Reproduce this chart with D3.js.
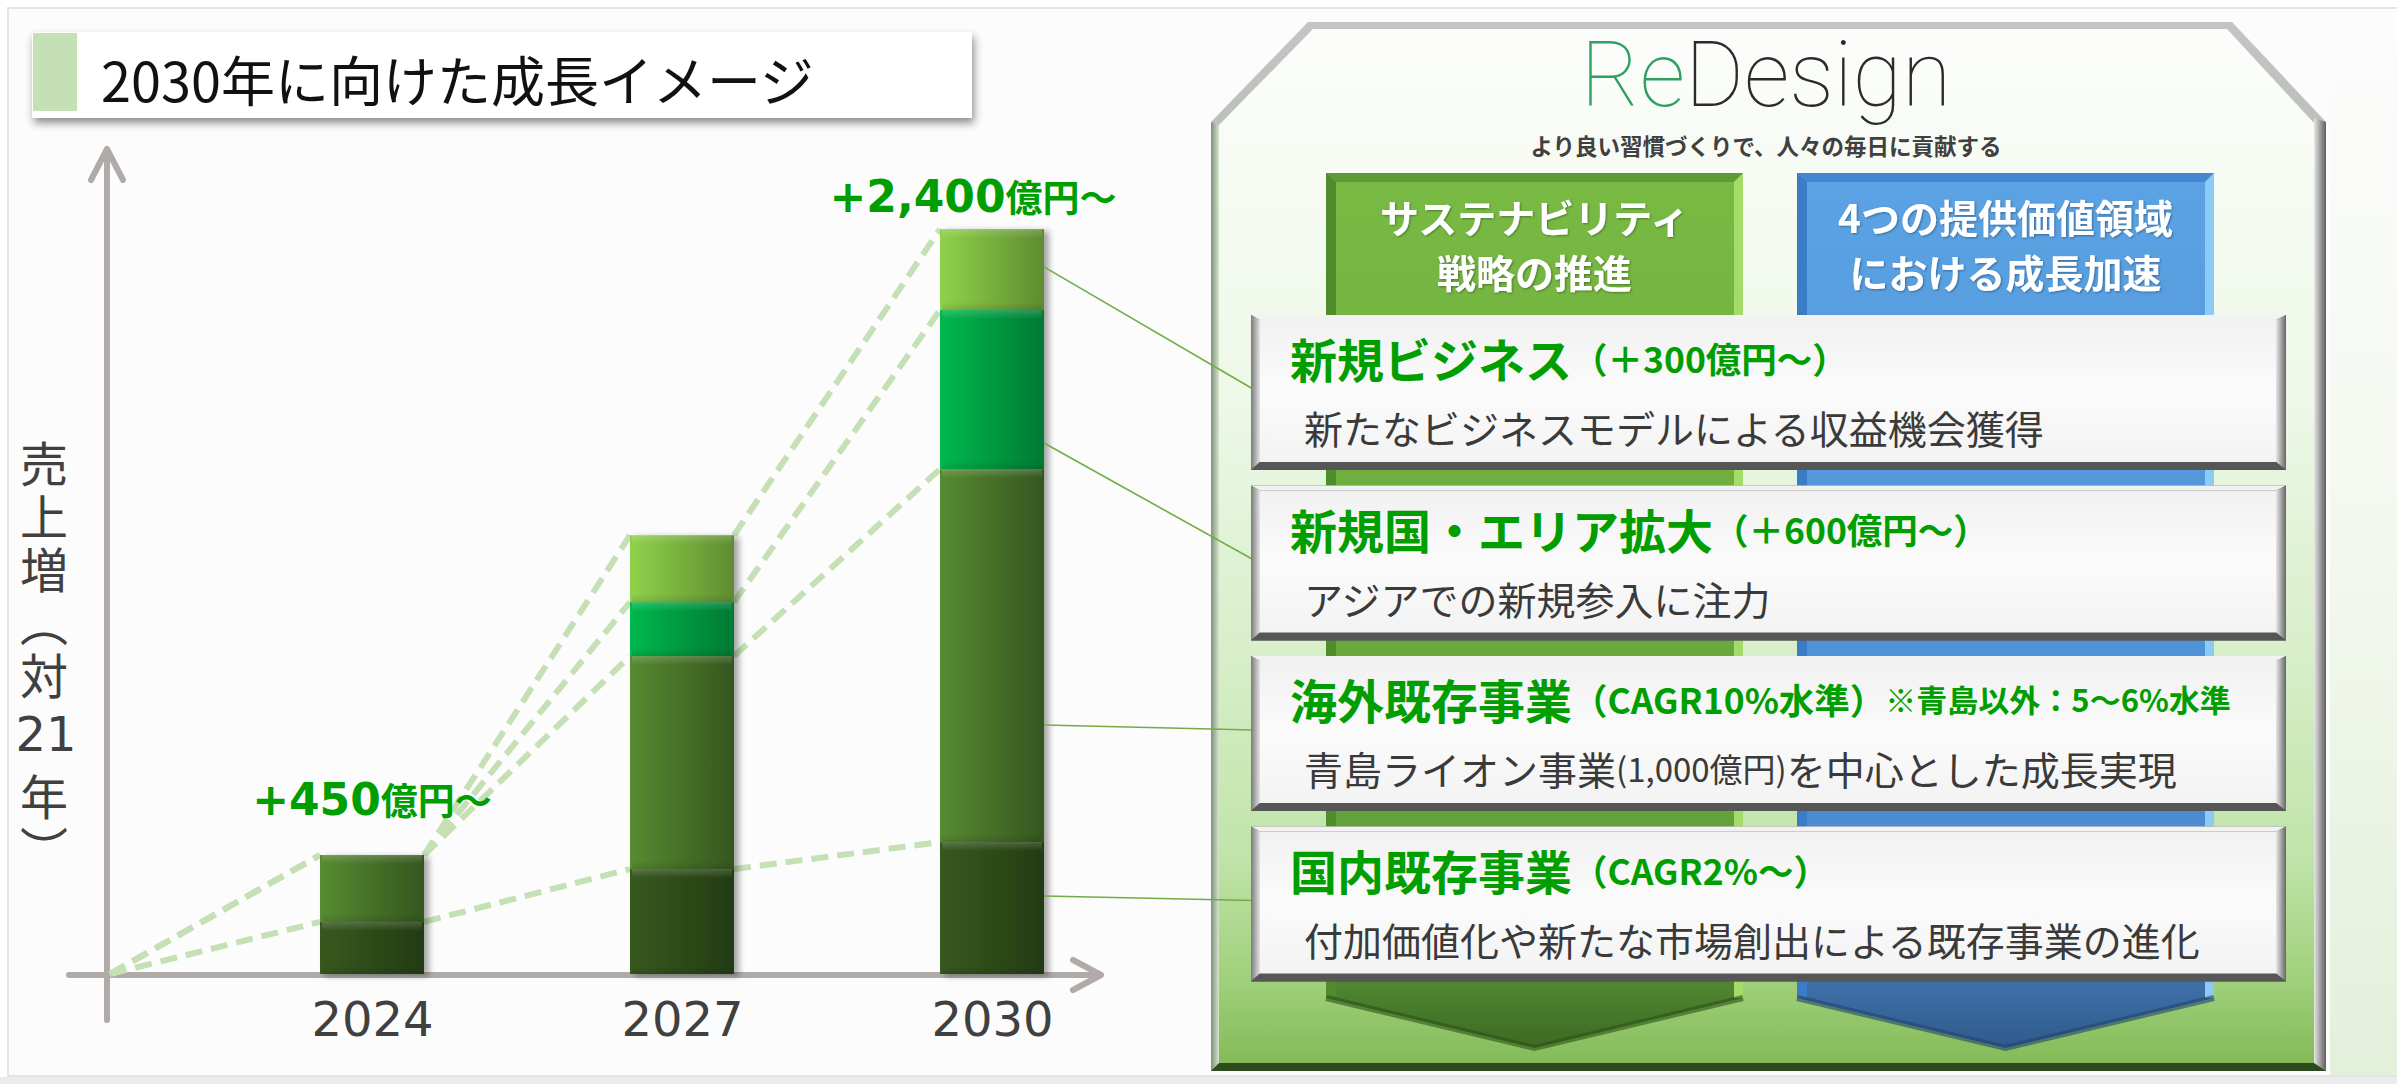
<!DOCTYPE html>
<meta charset="utf-8">
<style>
    html,
    body {
        margin: 0;
        padding: 0;
        background: #fff;
    }

    svg {
        display: block;
    }

    .vert {
        writing-mode: vertical-rl;
    }
</style>
<svg id="canvas"></svg>
<script src="https://d3js.org/d3.v7.min.js"></script>
<script>
    // chart values (illustrative bar heights, 億円)
    const years = ["2024", "2027", "2030"];
    const domestic = [197, 397, 499];
    const overseas = [253, 806, 1411];
    const newArea = [0, 204, 602];
    const newBiz = [0, 253, 306];
    const totalNums = ["+450", "", "+2,400"];
    const totalUnit = "億円～";
    // where the callout lines leave the 2030 bar (top box first)
    const linkValues = [2675, 2009, 942, 295];

    const chartTitle = "2030年に向けた成長イメージ";
    const yLabelTop = "売上増（対";
    const yLabelMid = "21";
    const yLabelEnd = "年）";

    const boxTitles = ["新規ビジネス", "新規国・エリア拡大", "海外既存事業", "国内既存事業"];
    const boxNotes = ["（＋300億円～）", "（＋600億円～）", "（CAGR10%水準）", "（CAGR2%～）"];
    const boxExtras = ["", "", "※青島以外：5～6%水準", ""];
    const boxSubs = [
        ["新たなビジネスモデルによる収益機会獲得"],
        ["アジアでの新規参入に注力"],
        ["青島ライオン事業", "(1,000億円)", "を中心とした成長実現"],
        ["付加価値化や新たな市場創出による既存事業の進化"]
    ];
    const pillarGreen = ["サステナビリティ", "戦略の推進"];
    const pillarBlue = ["4つの提供価値領域", "における成長加速"];
    const slogan = "より良い習慣づくりで、人々の毎日に貢献する";

    const W = 2397,
        H = 1084;

    var svg = d3.select("#canvas").attr("width", W).attr("height", H)
        .attr("font-family", "'Noto Sans CJK JP', 'Noto Sans', sans-serif");
    var defs = svg.append("defs");

    function grad(id, dir, stops) {
        var g = defs.append("linearGradient").attr("id", id)
            .attr("x1", 0).attr("y1", 0)
            .attr("x2", dir === "h" ? 1 : 0).attr("y2", dir === "h" ? 0 : 1);
        stops.forEach(function(s) {
            g.append("stop").attr("offset", s[0]).attr("stop-color", s[1])
                .attr("stop-opacity", s[2] == null ? 1 : s[2]);
        });
    }

    function shadow(id, dx, dy, sd, op) {
        defs.append("filter").attr("id", id)
            .attr("x", "-20%").attr("y", "-20%").attr("width", "140%").attr("height", "140%")
            .append("feDropShadow")
            .attr("dx", dx).attr("dy", dy).attr("stdDeviation", sd)
            .attr("flood-color", "#000").attr("flood-opacity", op);
    }

    //segment colours, light at left to dark at right
    var segColors = {
        domestic: ["#37591f", "#233c13"],
        overseas: ["#578b31", "#35561f"],
        newArea: ["#00b84e", "#007a33"],
        newBiz: ["#8fd24a", "#5f8c30"]
    };
    Object.keys(segColors).forEach(function(k) {
        grad("g-" + k, "h", [[0, segColors[k][0]], [1, segColors[k][1]]]);
    });
    grad("hi", "v", [[0, "#fff", 0.18], [1, "#fff", 0]]);
    grad("lo", "v", [[0, "#000", 0], [1, "#000", 0.12]]);
    grad("panel", "v", [[0, "#fcfdfb"], [0.35, "#eef8e8"], [0.6, "#d8efca"], [0.8, "#c0e4a9"], [0.92, "#a0d07b"], [1, "#84bb58"]]);
    grad("panelEdge", "v", [[0, "#c4c4c4"], [0.5, "#9fae9a"], [0.85, "#4f7f3a"], [1, "#2c4a1d"]]);
    grad("panelRight", "h", [[0, "#e6e6e6"], [1, "#5e5e5e"]]);
    grad("panelLeft", "h", [[0, "#7f8f7a"], [1, "#d5e6cc"]]);
    grad("pGreen", "v", [[0, "#79ba44"], [0.8, "#62a03a"], [0.93, "#4f8430"], [1, "#3c6a22"]]);
    grad("pBlue", "v", [[0, "#5ba3e4"], [0.8, "#4a8bcf"], [0.93, "#3d6fa7"], [1, "#2f5a8c"]]);
    grad("bxLeft", "h", [[0, "#7a7a7a"], [1, "#e4e4e4"]]);
    grad("bxRight", "h", [[0, "#e8e8e8"], [1, "#666"]]);
    grad("bxFace", "v", [[0, "#f1f1f1"], [0.5, "#fbfbfb"], [1, "#f3f3f3"]]);
    grad("bgRight", "v", [[0, "#fcfcfc"], [0.5, "#f3f8ef"], [1, "#e3f0da"]]);
    shadow("barShadow", 5, 2, 3, 0.35);
    shadow("titleShadow", 2, 5, 4, 0.45);
    shadow("txtShadow", 1, 1, 1, 0.35);

    // page background
    svg.append("rect").attr("width", W).attr("height", H).attr("fill", "#fff");
    svg.append("rect").attr("x", 8).attr("y", 8).attr("width", W - 8).attr("height", 1068)
        .attr("fill", "#fcfcfc").attr("stroke", "#e4e4e4").attr("stroke-width", 2);
    svg.append("rect").attr("x", 2330).attr("y", 9).attr("width", 67).attr("height", 1066)
        .attr("fill", "url(#bgRight)");
    svg.append("rect").attr("x", 0).attr("y", 1077).attr("width", W).attr("height", 7).attr("fill", "#ececec");

    // title box
    svg.append("rect").attr("x", 32).attr("y", 32).attr("width", 940).attr("height", 86)
        .attr("fill", "#fff").attr("filter", "url(#titleShadow)");
    svg.append("rect").attr("x", 33).attr("y", 33).attr("width", 44).attr("height", 78).attr("fill", "#c5e0b4");
    svg.append("text").attr("x", 101).attr("y", 78).attr("dominant-baseline", "central")
        .attr("font-size", 54).attr("fill", "#111").text(chartTitle);

    /** chart **/
    var rows = years.map(function(yr, i) {
        return {
            year: yr,
            domestic: domestic[i],
            overseas: overseas[i],
            newArea: newArea[i],
            newBiz: newBiz[i]
        };
    });
    var keys = ["domestic", "overseas", "newArea", "newBiz"];
    var stacked = d3.stack().keys(keys)(rows);

    var x = d3.scalePoint().domain(years).range([372, 992]);
    var y = d3.scaleLinear().domain([0, 3000]).range([974, 181]);
    var barW = 104;
    var originX = 110;

    // axes (arrows)
    var axisCol = "#b0aaa8";
    var axes = svg.append("g").attr("stroke", axisCol).attr("stroke-width", 6)
        .attr("fill", "none").attr("stroke-linecap", "round").attr("stroke-linejoin", "round");
    axes.append("line").attr("x1", 107).attr("x2", 107).attr("y1", 1020).attr("y2", 150);
    axes.append("polyline").attr("points", "91,180 107,149 123,180");
    axes.append("line").attr("x1", 69).attr("x2", 1100).attr("y1", y(0) + 1).attr("y2", y(0) + 1);
    axes.append("polyline").attr("points", "1073,960 1101,975 1073,990");

    // year labels
    svg.append("g").attr("transform", "translate(0," + y(0) + ")")
        .call(d3.axisBottom(x).tickSize(0).tickPadding(28))
        .call(function(g) {
            g.select(".domain").remove();
        })
        .selectAll("text")
        .attr("font-family", "DejaVu Sans")
        .attr("font-size", 48)
        .attr("fill", "#404040");

    // y label, written top to bottom
    var yl = svg.append("g").attr("fill", "#404040").attr("font-size", 48);
    yl.append("text").attr("class", "vert").attr("x", 44).attr("y", 440)
        .attr("letter-spacing", 5).text(yLabelTop);
    yl.append("text").attr("x", 46).attr("y", 734).attr("text-anchor", "middle")
        .attr("dominant-baseline", "central").attr("font-family", "DejaVu Sans").attr("font-size", 48)
        .text(yLabelMid);
    yl.append("text").attr("class", "vert").attr("x", 44).attr("y", 773)
        .attr("letter-spacing", 5).text(yLabelEnd);

    // dashed growth lines
    var segs = [];
    stacked.forEach(function(layer) {
        var px = originX,
            py = y(0);
        layer.forEach(function(d, j) {
            var lx = x(years[j]) - barW / 2;
            var ly = y(d[1]);
            segs.push([px, py, lx, ly]);
            px = lx + barW;
            py = ly;
        });
    });
    svg.append("g").selectAll("line").data(segs).enter().append("line")
        .attr("x1", function(d) {
            return d[0];
        }).attr("y1", function(d) {
            return d[1];
        })
        .attr("x2", function(d) {
            return d[2];
        }).attr("y2", function(d) {
            return d[3];
        })
        .attr("stroke", "#c5e0b4").attr("stroke-width", 6).attr("stroke-dasharray", "17 9");

    // stacked bars
    var bars = svg.append("g").selectAll("g").data(years).enter().append("g")
        .attr("filter", "url(#barShadow)");
    bars.each(function(yr, j) {
        var g = d3.select(this);
        stacked.forEach(function(layer) {
            var d = layer[j];
            var h = y(d[0]) - y(d[1]);
            if (h <= 0) return;
            var x0 = x(yr) - barW / 2;
            g.append("rect").attr("x", x0).attr("y", y(d[1])).attr("width", barW).attr("height", h)
                .attr("fill", "url(#g-" + layer.key + ")");
            g.append("rect").attr("x", x0 + 2).attr("y", y(d[1])).attr("width", barW - 4).attr("height", Math.min(9, h / 3))
                .attr("fill", "url(#hi)");
            g.append("rect").attr("x", x0 + 2).attr("y", y(d[0]) - Math.min(8, h / 3)).attr("width", barW - 4).attr("height", Math.min(8, h / 3))
                .attr("fill", "url(#lo)");
        });
    });

    // total labels
    var labelDx = [0, 0, -19],
        labelDy = [-40, 0, -17];
    var topLayer = stacked[stacked.length - 1];
    years.forEach(function(yr, j) {
        if (!totalNums[j]) return;
        var t = svg.append("text").attr("x", x(yr) + labelDx[j]).attr("y", y(topLayer[j][1]) + labelDy[j])
            .attr("text-anchor", "middle").attr("fill", "#009e00");
        t.append("tspan").attr("font-family", "DejaVu Sans").attr("font-weight", 700).attr("font-size", 44).text(totalNums[j]);
        t.append("tspan").attr("font-size", 37).attr("font-weight", 700).text(totalUnit);
    });

    /** right panel **/
    var panel = svg.append("g");
    panel.append("polygon").attr("points", "1308,22 2232,22 2326,122 2326,1071 1211,1071 1211,122")
        .attr("fill", "url(#panelEdge)");
    panel.append("polygon").attr("points", "2314,118 2326,122 2326,1071 2314,1063")
        .attr("fill", "url(#panelRight)");
    panel.append("polygon").attr("points", "1211,122 1219,125 1219,1063 1211,1071")
        .attr("fill", "url(#panelLeft)");
    panel.append("polygon").attr("points", "1313,29 2227,29 2314,123 2314,1063 1219,1063 1219,125")
        .attr("fill", "url(#panel)");

    // ReDesign mark
    var logo = panel.append("text").attr("x", 1766).attr("y", 106).attr("text-anchor", "middle")
        .attr("font-family", "Roboto, Lato, sans-serif").attr("font-weight", 100).attr("font-size", 90);
    logo.append("tspan").attr("fill", "#2f9f63").text("Re");
    logo.append("tspan").attr("fill", "#2b2b2b").text("Design");
    panel.append("text").attr("x", 1766).attr("y", 145).attr("text-anchor", "middle")
        .attr("dominant-baseline", "central").attr("font-size", 22.5).attr("font-weight", 700)
        .attr("fill", "#404040").text(slogan);

    // pillars with arrow ends
    function pillar(x0, x1, fill, dark, light, topCol, edge, lines) {
        var cx = (x0 + x1) / 2;
        var g = panel.append("g");
        g.append("path").attr("d", "M" + x0 + ",173H" + x1 + "V998L" + cx + ",1048L" + x0 + ",998Z")
            .attr("fill", "url(#" + fill + ")");
        g.append("rect").attr("x", x0).attr("y", 173).attr("width", 10).attr("height", 825).attr("fill", dark);
        g.append("rect").attr("x", x1 - 9).attr("y", 173).attr("width", 9).attr("height", 825).attr("fill", light);
        g.append("polygon").attr("points", [x0, 173, x1, 173, x1 - 9, 182, x0 + 10, 182].join(","))
            .attr("fill", topCol);
        g.append("path").attr("d", "M" + x0 + ",998L" + cx + ",1048L" + x1 + ",998")
            .attr("fill", "none").attr("stroke", edge).attr("stroke-width", 6).attr("stroke-opacity", 0.6);
        g.selectAll("text").data(lines).enter().append("text")
            .attr("x", cx).attr("y", function(d, i) {
                return 216 + i * 55;
            })
            .attr("text-anchor", "middle").attr("dominant-baseline", "central")
            .attr("font-size", 39).attr("font-weight", 700).attr("fill", "#fff")
            .attr("filter", "url(#txtShadow)")
            .text(function(d) {
                return d;
            });
    }
    pillar(1326, 1743, "pGreen", "#4e8c2c", "#a4dc6a", "#5e9b34", "#2c5216", pillarGreen);
    pillar(1797, 2214, "pBlue", "#3b7cc6", "#8ccbf6", "#4488d2", "#22456e", pillarBlue);

    // callout lines from the 2030 bar to the boxes
    var boxX = 1251,
        boxW = 1035,
        boxH = 155;

    function boxTop(i) {
        return 315 + i * 170.5;
    }
    var barRight = x("2030") + barW / 2;
    svg.append("g").selectAll("line").data(linkValues).enter().append("line")
        .attr("x1", barRight).attr("y1", function(d) {
            return y(d);
        })
        .attr("x2", boxX + 2).attr("y2", function(d, i) {
            return boxTop(i) + 74;
        })
        .attr("stroke", "#70ad47").attr("stroke-width", 1.6);

    // bevelled boxes
    boxTitles.forEach(function(title, i) {
        var bx = boxX,
            by = boxTop(i),
            w = boxW,
            h = boxH;
        var l = 9,
            t = 5,
            r = 10,
            b = 8;
        var g = svg.append("g");
        g.append("rect").attr("x", bx).attr("y", by).attr("width", w).attr("height", h).attr("fill", "#5a5a5a");
        g.append("polygon").attr("points", [bx, by, bx + w, by, bx + w - r, by + t, bx + l, by + t].join(",")).attr("fill", "#f2f2f2");
        g.append("polygon").attr("points", [bx, by, bx + l, by + t, bx + l, by + h - b, bx, by + h].join(",")).attr("fill", "url(#bxLeft)");
        g.append("polygon").attr("points", [bx + w, by, bx + w, by + h, bx + w - r, by + h - b, bx + w - r, by + t].join(",")).attr("fill", "url(#bxRight)");
        g.append("polygon").attr("points", [bx, by + h, bx + l, by + h - b, bx + w - r, by + h - b, bx + w, by + h].join(",")).attr("fill", "#565656");
        g.append("rect").attr("x", bx + l).attr("y", by + t).attr("width", w - l - r).attr("height", h - t - b).attr("fill", "url(#bxFace)");

        var tt = g.append("text").attr("x", 1290).attr("y", by + 42).attr("dominant-baseline", "central")
            .attr("fill", "#009e00").attr("font-weight", 700);
        tt.append("tspan").attr("font-size", 47).text(title);
        tt.append("tspan").attr("font-size", 35.5).text(boxNotes[i]);
        if (boxExtras[i]) tt.append("tspan").attr("font-size", 31).text(boxExtras[i]);

        var st = g.append("text").attr("x", 1304).attr("y", by + 112).attr("dominant-baseline", "central")
            .attr("fill", "#3a3a3a");
        boxSubs[i].forEach(function(s, k) {
            st.append("tspan").attr("font-size", k % 2 ? 33 : 39).text(s);
        });
    });
</script>
